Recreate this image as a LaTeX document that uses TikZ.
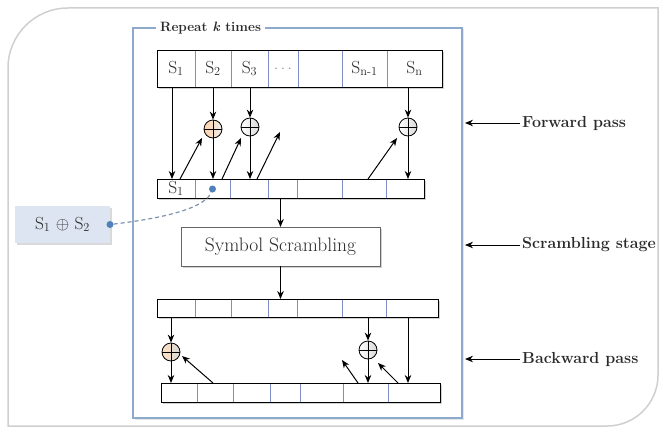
\documentclass[tikz,border=0pt]{standalone}
\usepackage{fontspec}
\usetikzlibrary{calc,shadows,arrows.meta}
\definecolor{cellblue}{HTML}{7E8DC6}
\definecolor{frameblue}{HTML}{8DA9CB}
\definecolor{outergray}{HTML}{CFCFCF}
\definecolor{dotblue}{HTML}{4F81BD}
\definecolor{boxblue}{HTML}{DCE5F1}
\definecolor{dashcol}{HTML}{7F93AF}
\definecolor{txt}{HTML}{2A2A2A}
\begin{document}
\begin{tikzpicture}[x=1pt,y=-1pt,
  arr/.style={-{Stealth[length=8pt,width=6.5pt]}, line width=1pt},
  cell/.style={draw=cellblue, line width=0.6pt, inner sep=0pt, outer sep=0pt, text=txt, font=\fontsize{17.5}{19}\selectfont},
  arrbox/.style={draw=black, line width=0.9pt, fill=white, inner sep=0pt, outer sep=0pt,
     drop shadow={shadow xshift=1.5pt, shadow yshift=-1.5pt, opacity=0.35}},
  outline/.style={draw=black, line width=0.9pt},
  xor/.style={circle, draw, line width=0.8pt, minimum size=18pt, inner sep=0pt,
     path picture={\draw[line width=0.8pt] (path picture bounding box.north) -- (path picture bounding box.south)
       (path picture bounding box.west) -- (path picture bounding box.east);}},
  lbl/.style={font=\fontsize{16}{18}\selectfont\bfseries, text=txt, anchor=west, inner sep=2pt},
  dot/.style={circle, fill=dotblue, minimum size=7pt, inner sep=0pt},
]
\useasboundingbox (0,0) rectangle (660,428);
% outer frame
\draw[outergray, line width=1.5pt] (8,426) -- (8,68) arc[start angle=180,end angle=90,radius=60pt]
  -- (658,8) -- (658,375) arc[start angle=0,end angle=-90,radius=51pt] -- cycle;
% inner frame
\node[draw=frameblue, line width=1.1pt, fill=white, minimum width=329pt, minimum height=390pt, inner sep=0pt, outer sep=0pt,
  drop shadow={shadow xshift=1.5pt, shadow yshift=-1.5pt, opacity=0.2}] (frame) at (297.5,223) {};
\node[font=\fontsize{13.5}{15}\selectfont\bfseries, text=txt, fill=white, anchor=west, inner xsep=4pt, inner ysep=1pt]
  (title) at (156,28) {Repeat \textit{k} times};
% top array
\node[arrbox, minimum width=285pt, minimum height=37pt] (top) at (299.5,68.5) {};
\foreach \a/\b/\t [count=\i] in {157/195/S\textsubscript{1},195/231/S\textsubscript{2},231/268/S\textsubscript{3},
    268/298/{\color{gray}.\hspace{2.5pt}.\hspace{2.5pt}.},298/342/{},342/387/S\textsubscript{n-1},387/442/S\textsubscript{n}}
  \node[cell, minimum width={(\b-\a)*1pt}, minimum height=37pt] (t\i) at ({(\a+\b)/2},68.5) {\t};
\draw[outline] (top.north west) rectangle (top.south east);
% middle array
\node[arrbox, minimum width=267pt, minimum height=19pt] (mid) at (290.5,188.5) {};
\foreach \a/\b/\t [count=\i] in {157/195/S\textsubscript{1},195/230/{},230/268/{},268/297/{},297/342/{},342/386/{},386/424/{}}
  \node[cell, minimum width={(\b-\a)*1pt}, minimum height=19pt] (m\i) at ({(\a+\b)/2},188.5) {\t};
\draw[outline] (mid.north west) rectangle (mid.south east);
% lower arrays
\node[arrbox, minimum width=281pt, minimum height=18pt] (low1) at (297.5,308) {};
\foreach \a/\b [count=\i] in {157/195,195/231,231/268,268/297,297/342,342/386,386/438}
  \node[cell, minimum width={(\b-\a)*1pt}, minimum height=18pt] (b\i) at ({(\a+\b)/2},308) {};
\draw[outline] (low1.north west) rectangle (low1.south east);
\node[arrbox, minimum width=279pt, minimum height=19pt] (low2) at (300.5,392.5) {};
\foreach \a/\b [count=\i] in {161/197,197/233,233/270,270/300,300/343,343/388,388/440}
  \node[cell, minimum width={(\b-\a)*1pt}, minimum height=19pt] (c\i) at ({(\a+\b)/2},392.5) {};
\draw[outline] (low2.north west) rectangle (low2.south east);
% scrambling
\node[draw=gray!80!black, line width=0.9pt, fill=white, minimum width=199pt, minimum height=39pt, inner sep=0pt, outer sep=0pt,
  text=txt, font=\fontsize{19.5}{22}\selectfont,
  drop shadow={shadow xshift=1.5pt, shadow yshift=-1.5pt, opacity=0.35}] (scr) at (280.5,246.5) {Symbol Scrambling};
% xor nodes
\node[xor, left color=orange!35, right color=gray!15] (x1) at (213,129) {};
\node[xor, left color=white, right color=gray!30] (x2) at (250,127) {};
\node[xor, left color=white, right color=gray!30] (x3) at (408,127) {};
\node[xor, left color=orange!25, right color=gray!30] (xa) at (171,352) {};
\node[xor, left color=white, right color=gray!30] (xb) at (368,350) {};
\coordinate (f1) at (280,132);
\coordinate (f2) at (342,360);
% forward pass connectors
\draw[arr] ([xshift=-4pt]t1.south) -- ([xshift=-4pt]m1.north);
\draw[arr] (t2.south -| x1) -- (x1);
\draw[arr] (x1) -- (x1 |- m2.north);
\draw[arr] ($(m1.north)+(4,0)$) -- ($(x1)+(-11,9)$);
\draw[arr] ($(m2.north)+(9.5,0)$) -- ($(x2)+(-9,11)$);
\draw[arr] (t3.south -| x2) -- (x2);
\draw[arr] (x2) -- (x2 |- m3.north);
\draw[arr] ($(m3.north)+(8,0)$) -- (f1);
\draw[arr] (t7.south -| x3) -- (x3);
\draw[arr] (x3) -- (x3 |- m7.north);
\draw[arr] ($(m6.north)+(4,0)$) -- ($(x3)+(-11,11)$);
% scrambling connectors
\draw[arr] (mid.south -| scr.north) -- (scr.north);
\draw[arr] (scr.south) -- (scr.south |- low1.north);
% backward pass connectors
\draw[arr] (low1.south -| xa) -- (xa);
\draw[arr] (xa) -- (xa |- low2.north);
\draw[arr] ($(c2.north)+(-2,0)$) -- ($(xa)+(11,4)$);
\draw[arr] (low1.south -| xb) -- (xb);
\draw[arr] (xb) -- (xb |- low2.north);
\draw[arr] ($(c6.north)+(-7.5,0)$) -- (f2);
\draw[arr] ($(c7.north)+(-16,0)$) -- ($(xb)+(10,13)$);
\draw[arr] ([xshift=-4pt]b7.south) -- ([xshift=-4pt]b7.south |- c7.north);
% callout
\node[dot] (d1) at (212.5,189) {};
\node[fill=boxblue, minimum width=95pt, minimum height=37pt, inner sep=0pt, outer sep=0pt, text=txt,
  font=\fontsize{17.5}{19}\selectfont,
  drop shadow={shadow xshift=1.5pt, shadow yshift=-1.5pt, opacity=0.3}] (sx) at (62.5,224.5)
  {S\textsubscript{1} $\oplus$ S\textsubscript{2}};
\node[dot] (d0) at (sx.east) {};
\draw[dashcol, line width=1.2pt, dash pattern=on 4pt off 3pt] (d0) .. controls (165,218) and (205,208) .. (d1);
% right labels
\node[lbl] (fp) at (520,123) {Forward pass};
\node[lbl] (ss) at (520,245) {Scrambling stage};
\node[lbl] (bp) at (520,359) {Backward pass};
\foreach \n in {fp,ss,bp}
  \draw[arr] (\n.west) -- ($(\n.west -| frame.east)+(3,0)$);
\end{tikzpicture}
\end{document}
